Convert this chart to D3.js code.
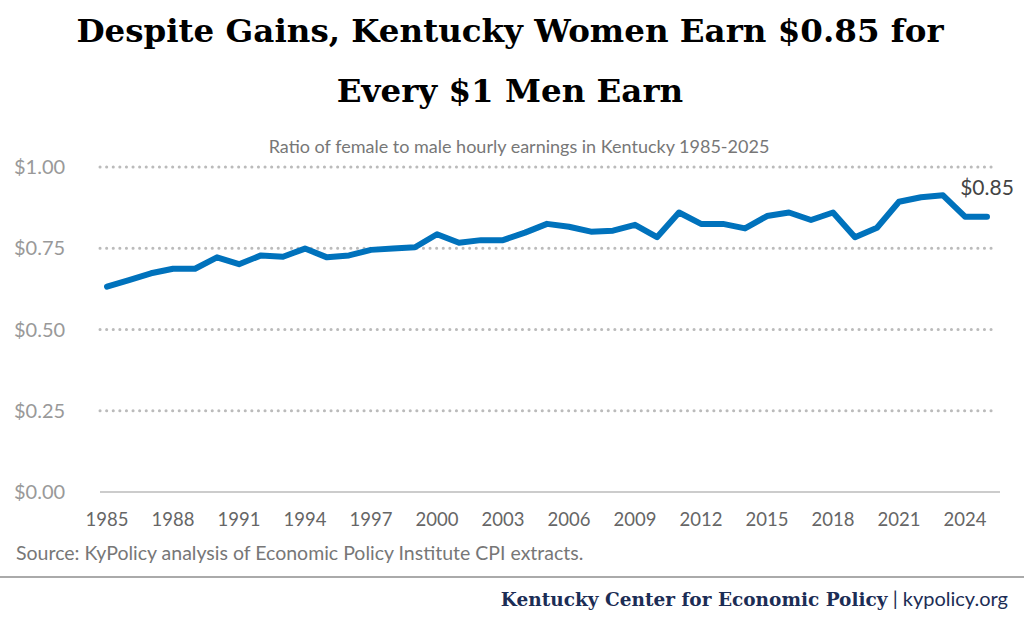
<!DOCTYPE html>
<html><head><meta charset="utf-8">
<script src="https://cdn.jsdelivr.net/npm/d3@7"></script>
<style>body{margin:0;background:#fff}svg{display:block}</style>
</head><body><svg id="chart"></svg>
<script>
// values
var years = d3.range(1985, 2026);
var ratios = [0.632,0.652,0.673,0.687,0.687,0.722,0.701,0.728,0.724,0.749,
  0.722,0.728,0.745,0.749,0.753,0.793,0.767,0.775,0.775,0.798,
  0.825,0.816,0.801,0.804,0.822,0.784,0.860,0.825,0.825,0.811,
  0.849,0.860,0.837,0.860,0.784,0.813,0.893,0.907,0.913,0.847,0.847];
var yTicks = [0, 0.25, 0.5, 0.75, 1];
var xTicks = [1985,1988,1991,1994,1997,2000,2003,2006,2009,2012,2015,2018,2021,2024];

var W = 1024, H = 630;
var svg = d3.select("#chart").attr("width", W).attr("height", H);

var x = d3.scaleLinear().domain([1985, 2025]).range([107, 987]);
var y = d3.scaleLinear().domain([0, 1]).range([492, 167]);

svg.append("text").attr("x", 510).attr("y", 42).attr("text-anchor", "middle")
  .style("font", "bold 32.5px 'DejaVu Serif'").attr("fill", "#000")
  .text("Despite Gains, Kentucky Women Earn $0.85 for");
svg.append("text").attr("x", 510).attr("y", 102).attr("text-anchor", "middle")
  .style("font", "bold 32.5px 'DejaVu Serif'").attr("fill", "#000")
  .text("Every $1 Men Earn");

svg.append("text").attr("x", 519).attr("y", 153).attr("text-anchor", "middle")
  .style("font", "18px Lato").attr("fill", "#777")
  .text("Ratio of female to male hourly earnings in Kentucky 1985-2025");

// gridlines
svg.selectAll(".grid").data(yTicks.filter(function (d) { return d > 0; })).enter()
  .append("line")
  .attr("x1", 100).attr("x2", 995)
  .attr("y1", function (d) { return y(d); }).attr("y2", function (d) { return y(d); })
  .attr("stroke", "#bbb").attr("stroke-width", 3)
  .attr("stroke-dasharray", "0.1,6.5").attr("stroke-linecap", "round");

svg.selectAll(".ylab").data(yTicks).enter().append("text")
  .attr("x", 14).attr("y", function (d) { return y(d) + 7; })
  .style("font", "20px Lato").attr("fill", "#999")
  .text(function (d) { return "$" + d.toFixed(2); });

// x axis
svg.append("line").attr("x1", 100).attr("x2", 1000).attr("y1", 492).attr("y2", 492)
  .attr("stroke", "#ccc").attr("stroke-width", 2);
svg.selectAll(".xlab").data(xTicks).enter().append("text")
  .attr("x", function (d) { return x(d); }).attr("y", 526).attr("text-anchor", "middle")
  .style("font", "18.5px Lato").attr("fill", "#666")
  .text(function (d) { return d; });

var line = d3.line()
  .x(function (d, i) { return x(years[i]); })
  .y(function (d) { return y(d); });
svg.append("path").datum(ratios).attr("d", line)
  .attr("fill", "none").attr("stroke", "#0072bc").attr("stroke-width", 6)
  .attr("stroke-linejoin", "round").attr("stroke-linecap", "round");

svg.append("text").attr("x", x(2025)).attr("y", y(ratios[ratios.length - 1]) - 22)
  .attr("text-anchor", "middle").style("font", "21px Lato").attr("fill", "#444")
  .text("$" + ratios[ratios.length - 1].toFixed(2));

svg.append("text").attr("x", 16).attr("y", 560)
  .style("font", "19.5px Lato").attr("fill", "#777")
  .text("Source: KyPolicy analysis of Economic Policy Institute CPI extracts.");

svg.append("line").attr("x1", 0).attr("x2", W).attr("y1", 577).attr("y2", 577)
  .attr("stroke", "#aaa").attr("stroke-width", 2);

var foot = svg.append("text").attr("x", 1008).attr("y", 606).attr("text-anchor", "end");
foot.append("tspan").style("font", "bold 18.5px 'DejaVu Serif'").attr("fill", "#1c2d55")
  .text("Kentucky Center for Economic Policy");
foot.append("tspan").style("font", "20px Lato").attr("fill", "#1c2d55")
  .text(" | kypolicy.org");
</script></body></html>
